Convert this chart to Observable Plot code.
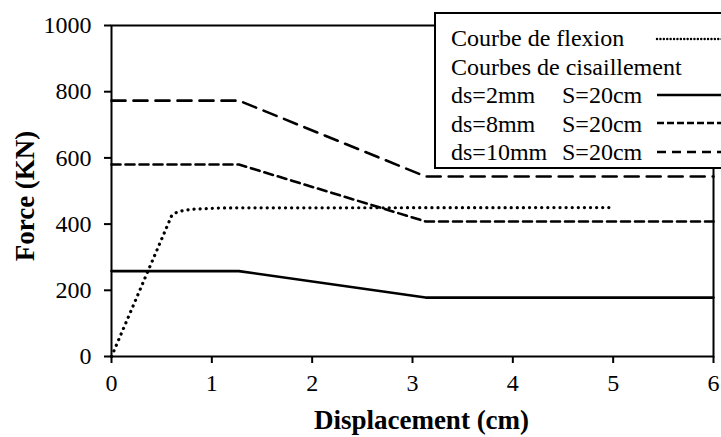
<!DOCTYPE html>
<html>
<head>
<meta charset="utf-8">
<script src="https://cdn.jsdelivr.net/npm/d3@7"></script>
<script src="https://cdn.jsdelivr.net/npm/@observablehq/plot@0.6"></script>
<style>
  html, body { margin: 0; padding: 0; background: #fff; }
  #wrap { position: relative; width: 721px; height: 437px; overflow: hidden; font-family: "Liberation Serif", "Times New Roman", serif; }
  #wrap svg, #wrap svg text { font-family: "Liberation Serif", "Times New Roman", serif !important; }
  #legend { position: absolute; left: 434px; top: 12px; width: 320px; height: 153px; border: 2px solid #000; background: #fff; }
  #legend .row { position: absolute; left: 15px; font-size: 24px; line-height: 28px; white-space: nowrap; color: #000; }
  #legend .s { position: absolute; left: 111px; }
  #legend svg { position: absolute; left: 0; top: 0; }
</style>
</head>
<body>
<div id="wrap"></div>
<script>
// ---- data ----
const flexionX = [0, 0.6, 0.64, 0.68, 0.8, 1.1, 5];
const flexionY = [0, 426, 434, 439, 445, 449, 450];
const shearX   = [0, 1.27, 3.13, 6];
const shear2   = [258, 258, 178, 178];
const shear8   = [580, 580, 408, 408];
const shear10  = [773, 773, 544, 544];
const xTicks = [0, 1, 2, 3, 4, 5, 6];
const yTicks = [0, 200, 400, 600, 800, 1000];
const legendLabels = ["Courbe de flexion", "Courbes de cisaillement", "ds=2mm", "ds=8mm", "ds=10mm"];
const legendS = "S=20cm";
const xTitle = "Displacement (cm)";
const yTitle = "Force (KN)";

const dotDash = "0.1 6";
const dash8 = "9 5";
const dash10 = "14 8";

const flexion = flexionX.map((x, i) => ({x, y: flexionY[i]}));
const s2 = shearX.map((x, i) => ({x, y: shear2[i]}));
const s8 = shearX.map((x, i) => ({x, y: shear8[i]}));
const s10 = shearX.map((x, i) => ({x, y: shear10[i]}));

const chart = Plot.plot({
  width: 721,
  height: 437,
  marginLeft: 111,
  marginRight: 8,
  marginTop: 25,
  marginBottom: 81,
  style: "font-family: 'Liberation Serif', serif; color: #000; background: #fff; overflow: visible; font-size: 24px;",
  x: {domain: [0, 6]},
  y: {domain: [0, 1000]},
  marks: [
    Plot.line(s2, {x: "x", y: "y", stroke: "#000", strokeWidth: 2.6}),
    Plot.line(s8, {x: "x", y: "y", stroke: "#000", strokeWidth: 2.6, strokeDasharray: dash8}),
    Plot.line(s10, {x: "x", y: "y", stroke: "#000", strokeWidth: 2.6, strokeDasharray: dash10}),
    Plot.line(flexion, {x: "x", y: "y", stroke: "#000", strokeWidth: 3.2, strokeDasharray: dotDash, strokeLinecap: "round"}),
    Plot.frame({stroke: "#000", strokeWidth: 2}),
    Plot.axisY({ticks: yTicks, tickFormat: d => String(d), tickSize: 7, tickPadding: 13, fontSize: 24, label: null, strokeWidth: 2}),
    Plot.axisX({ticks: xTicks, tickFormat: d => String(d), tickSize: 7, tickPadding: 10, fontSize: 24, label: null, strokeWidth: 2}),
    Plot.text([xTitle], {frameAnchor: "bottom", dx: 9, dy: 64, lineAnchor: "middle", fontSize: 27, fontWeight: "bold", fill: "#000"}),
    Plot.text([yTitle], {frameAnchor: "left", dx: -86, dy: 5, rotate: -90, lineAnchor: "middle", textAnchor: "middle", fontSize: 27, fontWeight: "bold", fill: "#000"})
  ]
});

const wrap = document.getElementById("wrap");
wrap.appendChild(chart);

// ---- legend ----
const legend = document.createElement("div");
legend.id = "legend";
const rowTops = [10, 38.5, 67, 95.5, 124];
legendLabels.forEach((lab, i) => {
  const r = document.createElement("div");
  r.className = "row";
  r.style.top = rowTops[i] + "px";
  r.textContent = lab;
  if (i >= 2) {
    const s = document.createElement("span");
    s.className = "s";
    s.textContent = legendS;
    r.appendChild(s);
  }
  legend.appendChild(r);
});
const svg = d3.create("svg").attr("width", 320).attr("height", 153);
const sampleY = [25, null, 81, 109, 138];
const styles = [
  {w: 2.4, d: "0.1 3.3", cap: "round"},
  null,
  {w: 2.4, d: null, cap: "butt"},
  {w: 2.6, d: "7 3", cap: "butt"},
  {w: 2.6, d: "9 6", cap: "butt"}
];
sampleY.forEach((y, i) => {
  if (y == null) return;
  const st = styles[i];
  const l = svg.append("line").attr("x1", 221).attr("x2", 320).attr("y1", y).attr("y2", y)
    .attr("stroke", "#000").attr("stroke-width", st.w).attr("stroke-linecap", st.cap);
  if (st.d) l.attr("stroke-dasharray", st.d);
});
legend.appendChild(svg.node());
wrap.appendChild(legend);
</script>
</body>
</html>
